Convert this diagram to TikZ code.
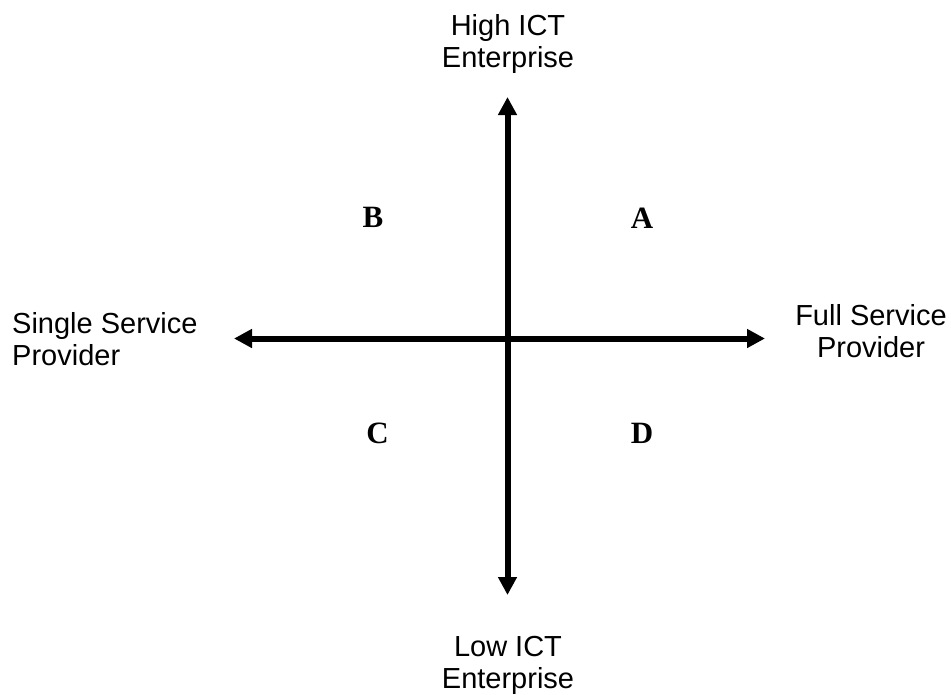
\documentclass[tikz,border=0pt]{standalone}
\usepackage{fontspec}
\setmainfont{Liberation Sans}
\newfontfamily\quadfont{Liberation Serif}
\usetikzlibrary{arrows.meta}
\tikzset{
  axislabel/.style={inner sep=0pt, font=\fontsize{29}{32}\selectfont},
  quadlabel/.style={inner sep=0pt, font=\quadfont\bfseries\fontsize{31}{34}\selectfont},
  axis/.style={line width=6pt, -{Triangle[length=18pt,width=18pt]}},
}
\begin{document}
\begin{tikzpicture}[x=1pt,y=-1pt]
\useasboundingbox (0,0) rectangle (951,694);
\coordinate (c) at (507.5,338.5);
\coordinate (top) at (507.5,97);
\coordinate (bot) at (507.5,595);
\coordinate (lft) at (234,338.5);
\coordinate (rgt) at (765,338.5);
\draw[axis] (c) -- (top);
\draw[axis] (c) -- (bot);
\draw[axis] (c) -- (lft);
\draw[axis] (c) -- (rgt);
\node[axislabel, anchor=north, align=center] (high) at (508,14) {High ICT\\Enterprise};
\node[axislabel, anchor=north, align=center] (low) at (508,636) {Low ICT\\Enterprise};
\node[axislabel, anchor=north west, align=left] (single) at (12,312) {Single Service\\Provider};
\node[axislabel, anchor=north, align=center] (full) at (871,304) {Full Service\\Provider};
\node[quadlabel] (A) at (642,218) {A};
\node[quadlabel] (B) at (373,217) {B};
\node[quadlabel] (C) at (377.5,433.5) {C};
\node[quadlabel] (D) at (642,433) {D};
\end{tikzpicture}
\end{document}
